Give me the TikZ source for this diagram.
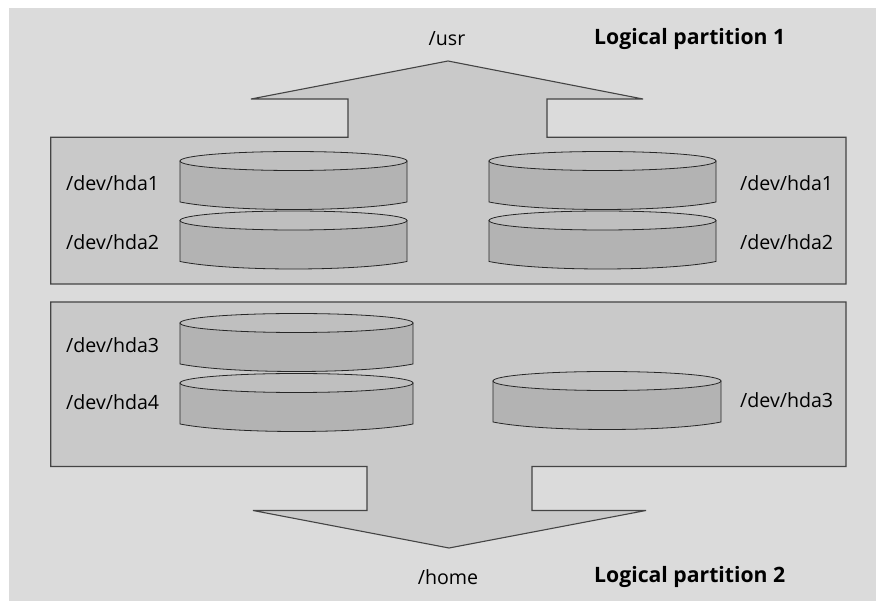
\documentclass[tikz,border=0pt]{standalone}
\usepackage{fontspec}
\setmainfont{Open Sans}
\definecolor{bggray}{HTML}{DBDBDB}
\definecolor{panelgray}{HTML}{C9C9C9}
\definecolor{edgegray}{HTML}{444444}
\definecolor{diskside}{HTML}{B3B3B3}
\definecolor{disktopc}{HTML}{BFBFBF}
\tikzset{
  panel/.style={fill=panelgray, draw=edgegray, line width=1.1pt, line join=miter},
  diskbody/.style={fill=diskside, draw=black!85, line width=0.8pt},
  disklid/.style={fill=disktopc, draw=black!85, line width=0.8pt},
  lbl/.style={font=\fontsize{19.6}{22}\selectfont, inner sep=0pt},
  ttl/.style={font=\fontsize{21.2}{24}\selectfont\bfseries, inner sep=0pt}
}
\newcommand\drawdisk[4]{%
  \pgfmathsetmacro\dcx{(#1+#2)/2}%
  \pgfmathsetmacro\drx{(#2-#1)/2}%
  \pgfmathsetmacro\dca{#1+0.22*(#2-#1)}%
  \pgfmathsetmacro\dcb{#2-0.22*(#2-#1)}%
  \draw[diskbody] (#1,#3) -- (#1,#3+#4) .. controls (\dca,#3+#4+10) and (\dcb,#3+#4+10) .. (#2,#3+#4) -- (#2,#3) -- cycle;
  \draw[disklid] (\dcx,#3) ellipse [x radius=\drx, y radius=9.5];
}
\begin{document}
\begin{tikzpicture}[x=1pt,y=-1pt]
\useasboundingbox (0,0) rectangle (876,601);
\fill[bggray] (9,8) rectangle (876,601);
% top panel with upward arrow
\draw[panel] (50.7,284) -- (50.7,137.3) -- (348,137.3) -- (348,99) -- (251,99) -- (448,61)
  -- (643,99) -- (547,99) -- (547,137.3) -- (846,137.3) -- (846,284) -- cycle;
% bottom panel with downward arrow
\draw[panel] (50.7,302) -- (846,302) -- (846,466.5) -- (532,466.5) -- (532,510.5) -- (646,510.5)
  -- (449,548) -- (253,510.5) -- (367,510.5) -- (367,466.5) -- (50.7,466.5) -- cycle;
% disks
\drawdisk{180}{407}{161}{41}
\drawdisk{180}{407}{220.5}{41}
\drawdisk{489}{716}{161}{41}
\drawdisk{489}{716}{220.5}{41}
\drawdisk{180}{413}{323}{41}
\drawdisk{180}{413}{383}{41}
\drawdisk{493}{721}{381}{41}
% labels
\node[lbl, anchor=west] (l1) at (66,183) {/dev/hda1};
\node[lbl, anchor=west] (l2) at (66,242) {/dev/hda2};
\node[lbl, anchor=west] (r1) at (740,183) {/dev/hda1};
\node[lbl, anchor=west] (r2) at (740,242) {/dev/hda2};
\node[lbl, anchor=west] (l3) at (66,345) {/dev/hda3};
\node[lbl, anchor=west] (l4) at (66,402) {/dev/hda4};
\node[lbl, anchor=west] (r3) at (740,400) {/dev/hda3};
\node[lbl] (usr) at (447,39) {/usr};
\node[lbl] (home) at (448,577) {/home};
\node[ttl, anchor=west] (lp1) at (594,39) {Logical partition 1};
\node[ttl, anchor=west] (lp2) at (594,577) {Logical partition 2};
\end{tikzpicture}
\end{document}
